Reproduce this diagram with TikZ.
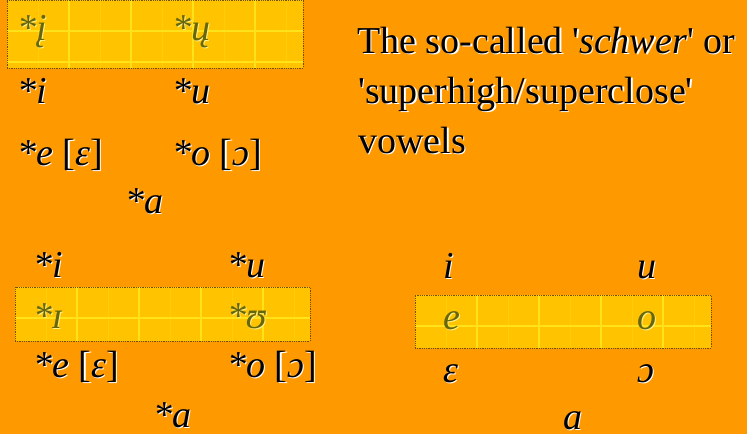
\documentclass[tikz,border=0pt]{standalone}
\usepackage{fontspec}
\setmainfont{Liberation Serif}[Ligatures=TeXOff]
\usetikzlibrary{fit}
\definecolor{bgorange}{HTML}{FF9900}
\definecolor{boxfill}{HTML}{FFC300}
\definecolor{gridmaj}{HTML}{FFE21A}
\definecolor{gridmin}{HTML}{FFCC06}
\definecolor{boxline}{HTML}{6E5200}
\definecolor{olivetxt}{HTML}{66660A}
\definecolor{oliveshd}{HTML}{FFF08A}
\newcommand\shcol{white}
\newcommand\shd[1]{\makebox[0pt][l]{\hspace{1.6pt}\smash{\raisebox{-1.6pt}{\color{\shcol}#1}}}#1}
\tikzset{
  vow/.style={anchor=base west, inner sep=0pt, text=black,
    font=\fontsize{38}{44}\selectfont\itshape},
  boxvow/.style={vow, text=olivetxt},
  prose/.style={anchor=base west, inner sep=0pt, text=black,
    font=\fontsize{38}{50}\selectfont},
  hibox/.style={draw=boxline, densely dotted, line width=0.8pt},
}
\newcommand\gridbox[5]{% name, x1,y1,x2,y2
  \fill[boxfill] (#2,#3) rectangle (#4,#5);
  \begin{scope}
    \clip (#2,#3) rectangle (#4,#5);
    \foreach \k in {1,...,10}{
      \pgfmathsetmacro\xx{#2+31*\k}
      \ifodd\k
        \draw[gridmin, line width=1pt] (\xx,#3) -- (\xx,#5);
      \else
        \draw[gridmaj, line width=1.2pt] (\xx,#3) -- (\xx,#5);
      \fi
    }
    \foreach \k in {1,2}{
      \pgfmathsetmacro\yy{#3+31*\k}
      \draw[gridmaj, line width=1.2pt] (#2,\yy) -- (#4,\yy);
    }
  \end{scope}
  \node[hibox, inner sep=0pt, fit={(#2,#3) (#4,#5)}] (#1) {};
}
\begin{document}
\begin{tikzpicture}[x=1pt,y=-1pt]
\fill[bgorange] (0,0) rectangle (747,434);
\useasboundingbox (0,0) rectangle (747,434);

% ---- top left
\gridbox{boxA}{7}{0}{303}{68}
{\renewcommand\shcol{oliveshd}
\node[boxvow] (tA1) at (17,40) {\shd{*į}};
\node[boxvow] (tA2) at (172,40) {\shd{*ų}};}
\node[vow] (tB1) at (17,103) {\shd{*i}};
\node[vow] (tB2) at (172,103) {\shd{*u}};
\node[vow] (tC1) at (17,165) {\shd{*e \upshape[\itshape ɛ\upshape]}};
\node[vow] (tC2) at (172,165) {\shd{*o \upshape[\itshape ɔ\upshape]}};
\node[vow] (tD) at (125,213) {\shd{*a}};

% ---- prose
\node[prose] (p1) at (357,53) {\shd{The so-called '\textit{schwer}' or}};
\node[prose] (p2) at (358,103) {\shd{'superhigh/superclose'}};
\node[prose] (p3) at (358,153) {\shd{vowels}};

% ---- bottom left
\gridbox{boxB}{15}{287}{310}{341}
\node[vow] (uA1) at (33,277) {\shd{*i}};
\node[vow] (uA2) at (227,277) {\shd{*u}};
{\renewcommand\shcol{oliveshd}
\node[boxvow] (uB1) at (33,328) {\shd{*ɪ}};
\node[boxvow] (uB2) at (227,328) {\shd{*ʊ}};}
\node[vow] (uC1) at (33,377) {\shd{*e \upshape[\itshape ɛ\upshape]}};
\node[vow] (uC2) at (227,377) {\shd{*o \upshape[\itshape ɔ\upshape]}};
\node[vow] (uD) at (153,427) {\shd{*a}};

% ---- bottom right
\gridbox{boxC}{415}{295}{711}{348}
\node[vow] (vA1) at (443,278) {\shd{i}};
\node[vow] (vA2) at (637,278) {\shd{u}};
{\renewcommand\shcol{oliveshd}
\node[boxvow] (vB1) at (443,329) {\shd{e}};
\node[boxvow] (vB2) at (637,329) {\shd{o}};}
\node[vow] (vC1) at (443,382) {\shd{ɛ}};
\node[vow] (vC2) at (637,382) {\shd{ɔ}};
\node[vow] (vD) at (563,429) {\shd{a}};
\end{tikzpicture}
\end{document}
